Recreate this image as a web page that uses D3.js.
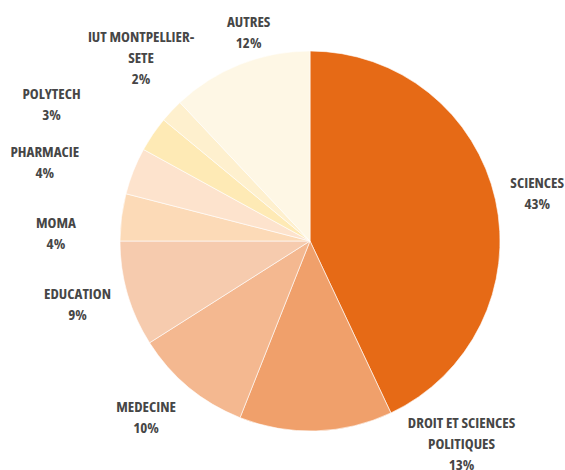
<!DOCTYPE html>
<html>
<head>
<meta charset="utf-8">
<script src="https://cdn.jsdelivr.net/npm/d3@7"></script>
<style>
  body { margin: 0; background: #fff; }
  .label { font-family: "Open Sans", "Liberation Sans Narrow", sans-serif; font-weight: 700; font-stretch: 75%; font-size: 15px; fill: #464646; }
</style>
</head>
<body>
<svg width="565" height="470"></svg>
<script>
const categories = ["SCIENCES", "DROIT ET SCIENCES POLITIQUES", "MEDECINE", "EDUCATION", "MOMA", "PHARMACIE", "POLYTECH", "IUT MONTPELLIER-SETE", "AUTRES"];
const shares = [43, 13, 10, 9, 4, 4, 3, 2, 12];
const labelLines = [
  ["SCIENCES"],
  ["DROIT ET SCIENCES", "POLITIQUES"],
  ["MEDECINE"],
  ["EDUCATION"],
  ["MOMA"],
  ["PHARMACIE"],
  ["POLYTECH"],
  ["IUT MONTPELLIER-", "SETE"],
  ["AUTRES"]
];
const colors = ["#e66a16", "#f0a06b", "#f4b890", "#f6cbae", "#fcdab7", "#fde3cd", "#feeab5", "#fef0ce", "#fef7e5"];

function drawPie() {
  const svg = d3.select("svg"),
    cx = 310,
    cy = 241,
    radius = 190,
    labelRadius = 240,
    lineHeight = 21,
    g = svg.append("g").attr("transform", `translate(${cx},${cy})`);

  // nudges so labels sit where the original put them
  const nudge = {
    "SCIENCES": [-7, 4],
    "DROIT ET SCIENCES POLITIQUES": [144, -37],
    "MEDECINE": [-11, -9],
    "EDUCATION": [-2, -4],
    "MOMA": [-16, 22],
    "PHARMACIE": [-42, 9],
    "POLYTECH": [-60, -2],
    "IUT MONTPELLIER-SETE": [6, -19],
    "AUTRES": [27, 14]
  };

  const data = categories.map((c, i) => ({ name: c, value: shares[i], lines: labelLines[i] }));

  const color = d3.scaleOrdinal().domain(categories).range(colors);

  const pie = d3.pie().value((d) => d.value).sort(null);
  const arc = d3.arc().innerRadius(0).outerRadius(radius);
  const arcs = pie(data);

  g.selectAll(".slice")
    .data(arcs)
    .enter()
    .append("path")
    .attr("class", "slice")
    .attr("d", arc)
    .attr("fill", (d) => color(d.data.name))
    .attr("stroke", "#fff")
    .attr("stroke-width", 0.6);

  const labels = g.selectAll(".label")
    .data(arcs)
    .enter()
    .append("text")
    .attr("class", "label")
    .attr("text-anchor", "middle")
    .attr("transform", (d) => {
      const a = (d.startAngle + d.endAngle) / 2,
        n = nudge[d.data.name] || [0, 0],
        x = labelRadius * Math.sin(a) + n[0],
        y = -labelRadius * Math.cos(a) + n[1];
      return `translate(${x},${y})`;
    });

  labels.each(function (d) {
    const rows = d.data.lines.concat([d.data.value + "%"]),
      top = -((rows.length - 1) * lineHeight) / 2;
    d3.select(this)
      .selectAll("tspan")
      .data(rows)
      .enter()
      .append("tspan")
      .attr("x", 0)
      .attr("y", (r, i) => top + i * lineHeight)
      .attr("dy", "0.36em")
      .text((r) => r);
  });
}

drawPie();
</script>
</body>
</html>
